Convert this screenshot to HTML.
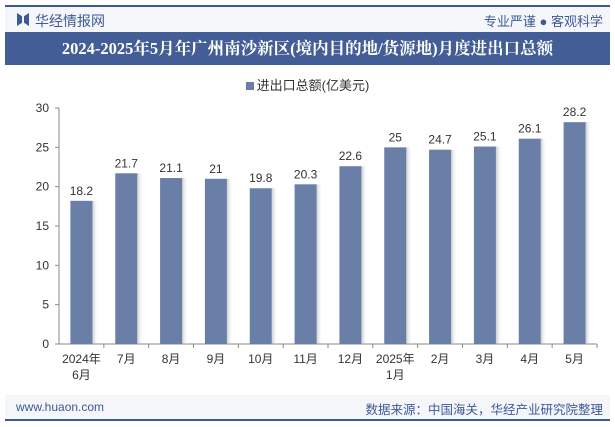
<!DOCTYPE html>
<html><head><meta charset="utf-8"><style>
body{margin:0;width:615px;height:427px;background:#fff;font-family:"Liberation Sans","Noto Sans CJK SC",sans-serif;position:relative;overflow:hidden}
.abs{position:absolute}
</style></head><body>
<div class="abs" style="left:5px;top:5px;width:605px;height:2px;background:#3d5a96"></div>
<div class="abs" style="left:5px;top:7px;width:605px;height:25px;background:#f4f6fa"></div>
<div class="abs" style="left:17px;top:13px;width:5px;height:13px;background:#3d5a96;clip-path:polygon(0 0,100% 25%,100% 75%,0 100%)"></div>
<div class="abs" style="left:24px;top:13px;width:5px;height:13px;background:#3d5a96;clip-path:polygon(100% 0,0 25%,0 75%,100% 100%)"></div>
<div class="abs" style="left:35px;top:11px;font-size:14px;color:#3d5a96">华经情报网</div>
<div class="abs" style="right:12px;top:11px;font-size:13px;color:#3d5a96">专业严谨 ● 客观科学</div>
<div class="abs" style="left:5px;top:32px;width:605px;height:33px;background:#435d97;color:#fff;font-size:16.5px;font-weight:bold;text-align:center;line-height:33px;font-family:'Liberation Serif','Noto Serif CJK SC',serif">2024-2025年5月年广州南沙新区(境内目的地/货源地)月度进出口总额</div>
<div class="abs" style="left:0;width:615px;top:75px;text-align:center;font-size:13px;color:#333"><span style="display:inline-block;width:8px;height:8px;background:#6a7fa8;margin-right:3px"></span>进出口总额(亿美元)</div>
<svg class="abs" style="left:0;top:0" width="615" height="427">
<defs><linearGradient id="sh" x1="0" x2="1"><stop offset="0" stop-color="#999" stop-opacity=".5"/><stop offset="1" stop-color="#fff" stop-opacity="0"/></linearGradient></defs>
<g id="g"></g></svg>
<div class="abs" style="left:5px;top:395px;width:605px;height:24px;background:#f4f6fa"></div>
<div class="abs" style="left:16px;top:400px;font-size:12px;color:#3d5a96">www.huaon.com</div>
<div class="abs" style="right:12px;top:399px;font-size:12.5px;color:#3d5a96">数据来源：中国海关，华经产业研究院整理</div>
<div class="abs" style="left:5px;top:419px;width:605px;height:2px;background:#3d5a96"></div>
<script>
const categories=["2024年|6月","7月","8月","9月","10月","11月","12月","2025年|1月","2月","3月","4月","5月"];
const values=[18.2,21.7,21.1,21,19.8,20.3,22.6,25,24.7,25.1,26.1,28.2];
const ticks=[0,5,10,15,20,25,30];
const x0=59,x1=597,y0=344,yTop=108,max=30;
const g=document.getElementById('g');const ns='http://www.w3.org/2000/svg';
const y=v=>y0-(v/max)*(y0-yTop);
const bw=(x1-x0)/categories.length;
function mk(t,a,txt){const e=document.createElementNS(ns,t);for(const k in a)e.setAttribute(k,a[k]);if(txt!==undefined)e.textContent=txt;g.appendChild(e);return e;}
ticks.forEach(t=>{const l=mk('line',{x1:x0-4,x2:x0,y1:y(t),y2:y(t),stroke:'#888'});
const tx=mk('text',{x:x0-10,y:y(t)+4,'text-anchor':'end','font-size':12,fill:'#333'},t);});
const ya=mk('line',{x1:x0,x2:x0,y1:yTop,y2:y0,stroke:'#888'});
const xa=mk('line',{x1:x0,x2:x1,y1:y0,y2:y0,stroke:'#888'});
categories.forEach((c,i)=>{const cx=x0+bw*(i+0.5);const v=values[i];
const s=mk('rect',{x:cx+11,y:y(v),width:6,height:y0-y(v),fill:'url(#sh)'});
const r=mk('rect',{x:cx-11,y:y(v),width:22,height:y0-y(v),fill:'#6a7fa8'});
const vl=mk('text',{x:cx,y:y(v)-6,'text-anchor':'middle','font-size':12,fill:'#333'},v);
const tk=mk('line',{x1:x0+bw*(i+1),x2:x0+bw*(i+1),y1:y0,y2:y0+4,stroke:'#888'});
c.split('|').forEach((p,j)=>{const t=mk('text',{x:cx,y:y0+19+j*16,'text-anchor':'middle','font-size':12,fill:'#333'},p);});});
</script>
</body></html>
